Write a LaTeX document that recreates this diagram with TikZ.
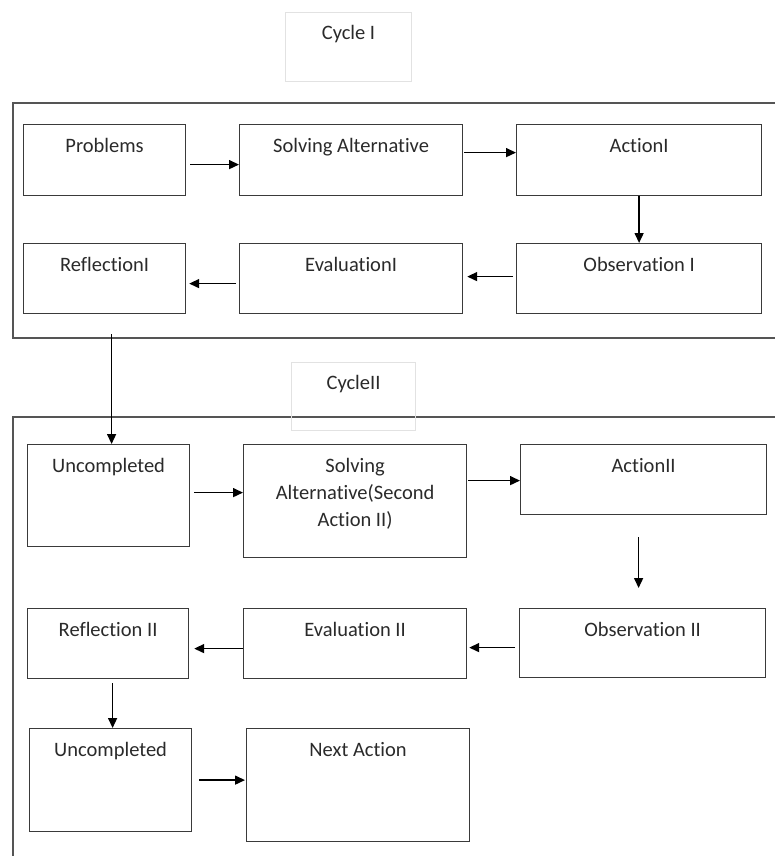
\documentclass[tikz,border=0pt]{standalone}
\usepackage{fontspec}
\setmainfont{Carlito}[Ligatures=NoCommon]
\usetikzlibrary{arrows.meta}
\usepackage{xcolor}
\definecolor{boxline}{HTML}{3A3A3A}
\definecolor{frameline}{HTML}{555555}
\definecolor{cycleline}{HTML}{E2E2E2}
\definecolor{txt}{HTML}{2A2A2A}
\newcommand{\stagefont}{\fontsize{20.5}{27}\selectfont}

\begin{document}
\begin{tikzpicture}[x=1pt,y=-1pt,
        stage/.style={draw=boxline, line width=1.2pt, anchor=north west, inner sep=0pt},
        cyclebox/.style={draw=cycleline, line width=1pt, anchor=north west, inner sep=0pt},
        lbl/.style={anchor=north, yshift=-14pt, inner sep=0pt, text height=14pt, text depth=4pt,
            font=\stagefont, text=txt},
        lbllines/.style={anchor=north, yshift=-14pt, inner sep=0pt, align=center,
            font=\stagefont, text=txt},
        arr/.style={-{Triangle[length=10pt,width=9pt]}, line width=1.5pt, black}]
    \useasboundingbox (0,0) rectangle (775,856);
    % cycle frames
    \draw[frameline, line width=1.2pt] (775,103) -- (13,103) -- (13,338) -- (775,338);
    \draw[frameline, line width=1.2pt] (775,417) -- (13,417) -- (13,856);
    \node[cyclebox, minimum width=126pt, minimum height=69pt] (cyc1) at (285,12) {};
    \node[lbl, yshift=1pt] (cyc1t) at (cyc1.north) {Cycle I};
    \node[cyclebox, minimum width=124pt, minimum height=68pt] (cyc2) at (291,362) {};
    \node[lbl, yshift=1pt] (cyc2t) at (cyc2.north) {CycleII};

    % cycle I
    \node[stage, minimum width=162pt, minimum height=71pt, label={[lbl]north:Problems}] (prob1) at (23,124) {};
    \node[stage, minimum width=223pt, minimum height=71pt, label={[lbl]north:Solving Alternative}] (sol1) at (239,124) {};
    \node[stage, minimum width=245pt, minimum height=71pt, label={[lbl]north:ActionI}] (act1) at (516,124) {};
    \node[stage, minimum width=162pt, minimum height=70pt, label={[lbl]north:ReflectionI}] (refl1) at (23,243) {};
    \node[stage, minimum width=223pt, minimum height=70pt, label={[lbl]north:EvaluationI}] (eval1) at (239,243) {};
    \node[stage, minimum width=245pt, minimum height=70pt, label={[lbl]north:Observation I}] (obs1) at (516,243) {};

    \draw[arr, shorten <=4pt] ([yshift=-4.5pt]prob1.east) -- ([yshift=-4.5pt]prob1.east -| sol1.west);
    \draw[arr, shorten <=1pt] ([yshift=7.5pt]sol1.east) -- ([yshift=7.5pt]sol1.east -| act1.west);
    \draw[arr] (act1.south) -- (obs1.north);
    \draw[arr, shorten <=3pt, shorten >=4pt] ([yshift=2pt]obs1.west) -- ([yshift=2pt]obs1.west -| eval1.east);
    \draw[arr, shorten <=3pt, shorten >=3pt] ([yshift=-5pt]eval1.west) -- ([yshift=-5pt]eval1.west -| refl1.east);

    % cycle II
    \node[stage, minimum width=162pt, minimum height=102pt, label={[lbl]north:Uncompleted}] (unc1) at (27,444) {};
    \node[stage, minimum width=223pt, minimum height=113pt,
        label={[lbllines]north:Solving\\Alternative(Second\\Action II)}] (sol2) at (243,444) {};
    \node[stage, minimum width=246pt, minimum height=70pt, label={[lbl]north:ActionII}] (act2) at (520,444) {};
    \node[stage, minimum width=161pt, minimum height=70pt, label={[lbl]north:Reflection II}] (refl2) at (27,608) {};
    \node[stage, minimum width=223pt, minimum height=70pt, label={[lbl]north:Evaluation II}] (eval2) at (243,608) {};
    \node[stage, minimum width=246pt, minimum height=69pt, label={[lbl]north:Observation II}] (obs2) at (519,608) {};
    \node[stage, minimum width=162pt, minimum height=103pt, label={[lbl]north:Uncompleted}] (unc2) at (29,728) {};
    \node[stage, minimum width=223pt, minimum height=113pt, label={[lbl]north:Next Action}] (next) at (246,728) {};

    \draw[arr, shorten <=20pt] ([xshift=3pt]unc1.north |- refl1.south) -- ([xshift=3pt]unc1.north);
    \draw[arr, shorten <=4pt] ([yshift=3pt]unc1.east) -- ([yshift=3pt]unc1.east -| sol2.west);
    \draw[arr, shorten <=1pt] ([yshift=-1pt]act2.west -| sol2.east) -- ([yshift=-1pt]act2.west);
    \draw[arr, shorten <=22pt, shorten >=20pt] ([xshift=-4pt]obs2.north |- act2.south) -- ([xshift=-4pt]obs2.north);
    \draw[arr, shorten <=4pt, shorten >=2pt] ([yshift=-4.5pt]obs2.west) -- ([yshift=-4.5pt]obs2.west -| eval2.east);
    \draw[arr, shorten >=5pt] ([yshift=-5pt]eval2.west) -- ([yshift=-5pt]eval2.west -| refl2.east);
    \draw[arr, shorten <=4pt] ([xshift=2pt]unc2.north |- refl2.south) -- ([xshift=2pt]unc2.north);
    \draw[arr, shorten <=7pt, shorten >=1pt] (unc2.east) -- (unc2.east -| next.west);
\end{tikzpicture}
\end{document}
